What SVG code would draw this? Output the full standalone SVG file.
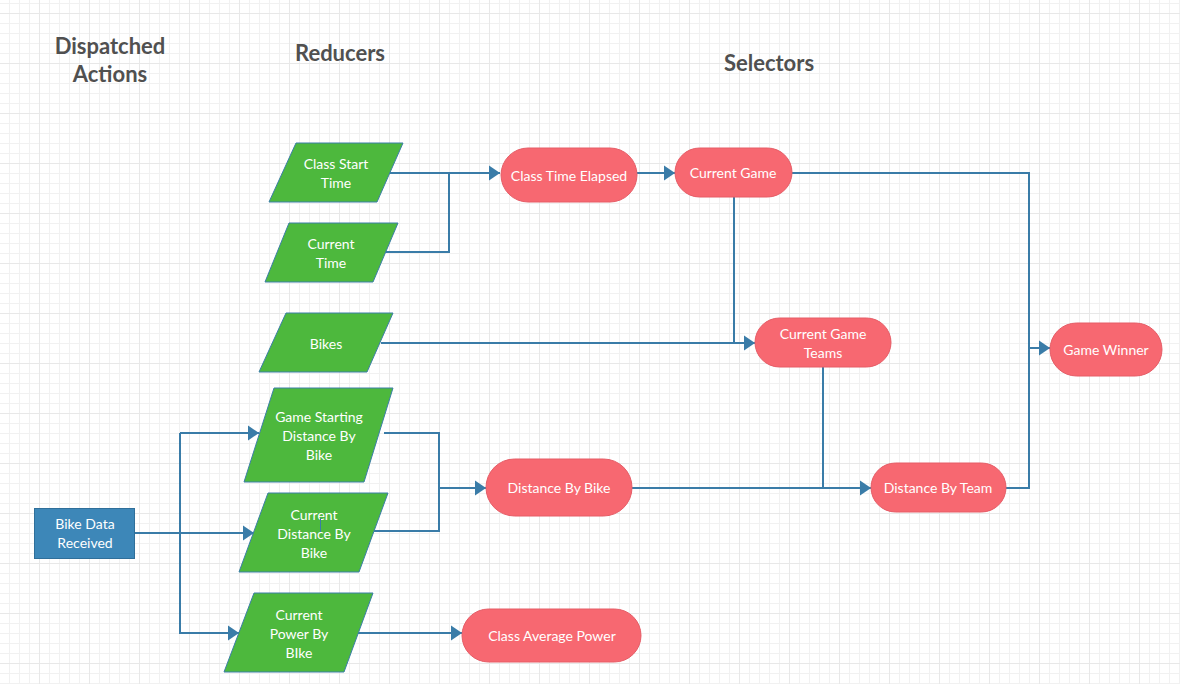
<svg xmlns="http://www.w3.org/2000/svg" width="1180" height="684" viewBox="0 0 1180 684">
<defs>
<pattern id="minor" width="10" height="10" patternUnits="userSpaceOnUse" x="9" y="3">
<path d="M0.5 0V10M0 0.5H10" stroke="#f1f1f1" stroke-width="1" fill="none"/>
</pattern>
<pattern id="major" width="50" height="50" patternUnits="userSpaceOnUse" x="39" y="13">
<path d="M0.5 0V50M0 0.5H50" stroke="#e8e8e8" stroke-width="1" fill="none"/>
</pattern>
<marker id="arr" markerWidth="12" markerHeight="16" refX="11" refY="8" orient="auto" markerUnits="userSpaceOnUse">
<path d="M0 0.5L11 8L0 15.5Z" fill="#3a7ca8"/>
</marker>
</defs>
<style>
.head{font-family:Lato,"Liberation Sans",sans-serif;font-weight:bold;font-size:22px;fill:#505050;text-anchor:middle}
.t{font-family:Lato,"Liberation Sans",sans-serif;font-size:14px;fill:#ffffff;text-anchor:middle}
.g{fill:#4db83d;stroke:#3b7fa6;stroke-width:1}
.r{fill:#f76871;stroke:#e65d67;stroke-width:1}
.b{fill:#3d87b8;stroke:#2f6f9a;stroke-width:1}
.c{fill:none;stroke:#3a7ca8;stroke-width:2}
</style>
<rect width="1180" height="684" fill="#ffffff"/>
<rect width="1180" height="684" fill="url(#minor)"/>
<rect width="1180" height="684" fill="url(#major)"/>

<g id="headings">
<text class="head" x="110" y="54">Dispatched</text>
<text class="head" x="110" y="82">Actions</text>
<text class="head" x="340" y="61">Reducers</text>
<text class="head" x="769" y="71">Selectors</text>
</g>

<g id="connectors">
<path class="c" d="M388 173H500" marker-end="url(#arr)"/>
<path class="c" d="M385 252H449V173"/>
<path class="c" d="M637 173H675" marker-end="url(#arr)"/>
<path class="c" d="M792 173H1029V348H1050" marker-end="url(#arr)"/>
<path class="c" d="M1006 488H1029V348"/>
<path class="c" d="M381 343H755" marker-end="url(#arr)"/>
<path class="c" d="M734 197V343"/>
<path class="c" d="M823 367V488"/>
<path class="c" d="M632 488H871" marker-end="url(#arr)"/>
<path class="c" d="M384 433H439V531H374"/>
<path class="c" d="M439 488H486" marker-end="url(#arr)"/>
<path class="c" d="M135 533H254" marker-end="url(#arr)"/>
<path class="c" d="M180 433V633H239" marker-end="url(#arr)"/>
<path class="c" d="M180 433H259" marker-end="url(#arr)"/>
<path class="c" d="M358 633H462" marker-end="url(#arr)"/>
</g>

<g id="class-start-time">
<polygon class="g" points="296,143 403,143 377,202 269,202"/>
<text class="t" x="336" y="169">Class Start</text>
<text class="t" x="336" y="188">Time</text>
</g>
<g id="current-time">
<polygon class="g" points="289,223 398,223 373,282 265,282"/>
<text class="t" x="331" y="249">Current</text>
<text class="t" x="331" y="268">Time</text>
</g>
<g id="bikes">
<polygon class="g" points="286,313 393,313 367,372 259,372"/>
<text class="t" x="326" y="349">Bikes</text>
</g>
<g id="game-starting-distance">
<polygon class="g" points="274,388 393,388 364,482 244,482"/>
<text class="t" x="319" y="422">Game Starting</text>
<text class="t" x="319" y="441">Distance By</text>
<text class="t" x="319" y="460">Bike</text>
</g>
<g id="current-distance">
<polygon class="g" points="268,493 388,493 359,572 239,572"/>
<text class="t" x="314" y="520">Current</text>
<text class="t" x="314" y="539">Distance By</text>
<text class="t" x="314" y="558">Bike</text>
<line x1="320.5" y1="518" x2="320.5" y2="532" stroke="#3a7ca8" stroke-width="1"/>
</g>
<g id="current-power">
<polygon class="g" points="254,593 373,593 344,672 224,672"/>
<text class="t" x="299" y="620">Current</text>
<text class="t" x="299" y="639">Power By</text>
<text class="t" x="299" y="658">BIke</text>
</g>
<g id="bike-data-received">
<rect class="b" x="34.5" y="508.5" width="100" height="50"/>
<text class="t" x="85" y="529">Bike Data</text>
<text class="t" x="85" y="548">Received</text>
</g>
<g id="class-time-elapsed">
<rect class="r" x="501" y="148" width="136" height="54" rx="27"/>
<text class="t" x="569" y="181">Class Time Elapsed</text>
</g>
<g id="current-game">
<rect class="r" x="675" y="148" width="117" height="49" rx="24.5"/>
<text class="t" x="733" y="178">Current Game</text>
</g>
<g id="current-game-teams">
<rect class="r" x="755" y="318" width="136" height="49" rx="24.5"/>
<text class="t" x="823" y="339">Current Game</text>
<text class="t" x="823" y="358">Teams</text>
</g>
<g id="game-winner">
<rect class="r" x="1050" y="323" width="112" height="53" rx="26.5"/>
<text class="t" x="1106" y="355">Game Winner</text>
</g>
<g id="distance-by-bike">
<rect class="r" x="486" y="459" width="146" height="57" rx="28.5"/>
<text class="t" x="559" y="493">Distance By Bike</text>
</g>
<g id="distance-by-team">
<rect class="r" x="871" y="463" width="135" height="49" rx="24.5"/>
<text class="t" x="938" y="493">Distance By Team</text>
</g>
<g id="class-average-power">
<rect class="r" x="462" y="609" width="179" height="53" rx="26.5"/>
<text class="t" x="552" y="641">Class Average Power</text>
</g>
</svg>
